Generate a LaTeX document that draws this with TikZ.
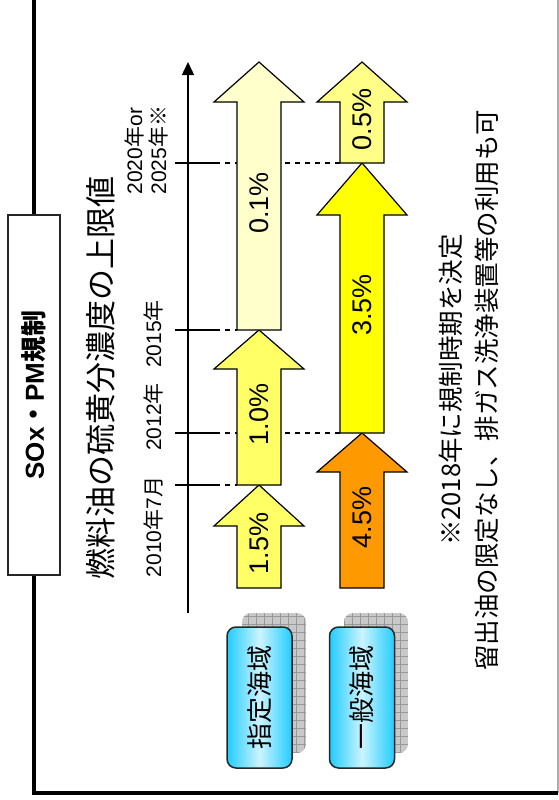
\documentclass[tikz,border=0pt]{standalone}
\usepackage{fontspec}
\setmainfont{Liberation Sans}
\newfontfamily\jpfont{Noto Sans CJK JP}
\newcommand\ja[1]{{\jpfont #1}}
\usetikzlibrary{arrows.meta}

\definecolor{palelemon}{HTML}{FFFFCC}
\definecolor{lemon}{HTML}{FFFF66}
\definecolor{cream}{HTML}{FFFF88}
\definecolor{brightyellow}{HTML}{FFFF00}
\definecolor{sulforange}{HTML}{FF9900}
\definecolor{seadark}{HTML}{22CCFF}
\definecolor{sealight}{HTML}{CCF4FF}
\definecolor{shadowgray}{HTML}{C8C8C8}
\definecolor{gridgray}{HTML}{999999}

\tikzset{
  frameline/.style={line width=4pt},
  arrowbox/.style={draw=black, line width=1.2pt, line join=miter},
  pct/.style={rotate=90, font=\fontsize{27}{29}\selectfont},
  seabox/.style={draw=black!85, line width=1.5pt, rounded corners=9pt, rotate=90,
    minimum width=141pt, minimum height=65pt, inner sep=0pt,
    left color=seadark, right color=seadark, middle color=sealight,
    font=\jpfont\fontsize{26}{28}\selectfont},
  datelab/.style={rotate=90, font=\fontsize{21}{24}\selectfont},
}

\newcommand\fuelarrow[6]{% center x, tip y, base y, head length, fill, label
  \draw[arrowbox, fill=#5] ({#1-22},#3) -- ({#1-22},{#2+#4}) -- ({#1-45},{#2+#4})
    -- (#1,#2) -- ({#1+45},{#2+#4}) -- ({#1+22},{#2+#4}) -- ({#1+22},#3) -- cycle;
  \node[pct] at (#1,{(#2+#3)/2+7}) {#6};
}

\begin{document}
\begin{tikzpicture}[x=1pt,y=-1pt]
  \useasboundingbox (0,0) rectangle (559,800);

  % frame
  \draw[gridgray!80, line width=1.2pt] (558,0) -- (558,793);
  \draw[frameline] (34,0) -- (34,793) -- (558,793);
  \node[draw=black!85, fill=white, line width=1.2pt, minimum width=52pt, minimum height=360pt,
    inner sep=0pt] (title) at (34,395) {};
  \node[rotate=90, font=\bfseries\fontsize{26}{28}\selectfont] at (title.center)
    {SOx\ja{\bfseries ・}PM\ja{\bfseries 規制}};

  % heading
  \node[rotate=90, font=\jpfont\fontsize{31}{33}\selectfont] (head) at (101,378)
    {燃料油の硫黄分濃度の上限値};

  % time axis
  \coordinate (ax0) at (188,613);
  \coordinate (ax1) at (188,62);
  \draw[line width=1.5pt, -{Triangle[width=12pt,length=13pt]}] (ax0) -- (ax1);

  % ticks and guide lines
  \foreach \ty/\tx in {163/341, 433/341, 330/237, 485/237}{
    \draw[line width=1.5pt] (175,\ty) -- (215,\ty);
    \draw[line width=1.2pt, dash pattern=on 5pt off 5pt] (215,\ty) -- (\tx,\ty);
  }

  % dates
  \node[datelab] (d2010) at (153,527) {2010\ja{年}7\ja{月}};
  \node[datelab] (d2012) at (153,417) {2012\ja{年}};
  \node[datelab] (d2015) at (153,334) {2015\ja{年}};
  \node[datelab, align=left, inner sep=0pt] (d2020) at (146,150)
    {2020\ja{年}or\\2025\ja{年※}};

  % designated sea areas
  \fuelarrow{259}{485}{588}{41}{lemon}{1.5\%}
  \fuelarrow{259}{330}{485}{39}{lemon}{1.0\%}
  \fuelarrow{259}{62}{330}{40}{palelemon}{0.1\%}
  % general sea areas
  \fuelarrow{362}{433}{588}{39}{sulforange}{4.5\%}
  \fuelarrow{362}{163}{433}{52}{brightyellow}{3.5\%}
  \fuelarrow{362}{62}{163}{40}{cream}{0.5\%}

  % shadows of the region boxes
  \foreach \sx in {242, 344}{
    \begin{scope}
      \clip[rounded corners=9pt] (\sx,613) rectangle ({\sx+64},753);
      \fill[shadowgray] (\sx,613) rectangle ({\sx+64},753);
      \draw[gridgray, line width=0.5pt, step=8pt] (\sx,613) grid ({\sx+64},753);
    \end{scope}
  }
  \node[seabox] (regA) at (259.5,697.5) {指定海域};
  \node[seabox] (regB) at (362,697.5) {一般海域};

  % note
  \node[rotate=90, align=center, font=\jpfont\fontsize{25.5}{36}\selectfont] (note) at (469,390)
    {※2018年に規制時期を決定\\留出油の限定なし、排ガス洗浄装置等の利用も可};
\end{tikzpicture}
\end{document}
